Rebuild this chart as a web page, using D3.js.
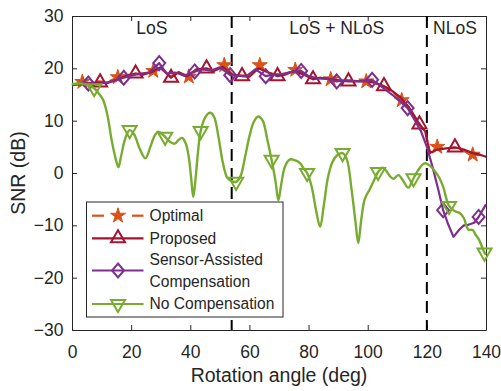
<!DOCTYPE html>
<html><head>
<meta charset="utf-8">
<script src="https://d3js.org/d3.v7.min.js"></script>
<style>
  body { margin: 0; background: #fff; }
  svg text { font-family: "Liberation Sans", Arial, Helvetica, sans-serif; fill: #262626; }
  .axis path, .axis line { stroke: #262626; }
  .axis text { font-size: 17.5px; }
</style>
</head>
<body>
<svg id="chart" width="501" height="391"></svg>
<script>

// ---- data: [rotation angle (deg), SNR (dB)] ----
const optimalPts = [
  [0,16.8],[3.5,17.4],[6,17],[9,17.5],[12,17.4],[15.5,18.3],[18,18.6],[21,19],[24,18.8],[27.5,19.5],
  [30,20],[33,18.5],[36,19],[39.5,18.4],[42,19.5],[45,19.8],[48,19.4],[51.5,20.6],[54,19],[57,18.6],
  [60,18.6],[63.5,20.6],[66,19.2],[69,18.8],[72,18.9],[75.5,19.7],[78,19],[81,18.1],[84,18.2],[87.5,17.9],
  [90,17.8],[93,17.7],[96,17.6],[99.5,17.5],[102,17.3],[105,16.7],[108,15.8],[111.5,13.9],[114,12.5],[117,9.8],
  [119.5,7.8],[121,4],[123.5,5],[126,4.7],[129,4.8],[132,4.3],[135.5,3.5],[138,3.4],[140,3.1]
];
const proposedPts = [
  [0,16.8],[3,17],[6,17.2],[9.5,17.3],[12,17.2],[15,17.8],[18,18.5],[21.5,19],[24,18.8],[27,19.3],
  [30,20.2],[33.5,18.2],[36,19.3],[39,18.5],[42,19.8],[45.5,20],[48,19.5],[51,20.3],[54,18.8],[57.5,18.5],
  [60,18.4],[63,20],[66,19.3],[69.5,18.5],[72,18.8],[75,19.5],[78,18.9],[81.5,17.9],[84,18.2],[87,18],
  [90,17.7],[93.5,17.5],[96,17.5],[99,17.6],[102,17.3],[105.5,16.6],[108,15.8],[111,14.5],[114,12.5],[117.5,9.3],
  [119.5,7.9],[121,3.8],[123,4.4],[126.5,4.7],[129.5,4.9],[132.5,4.5],[135.5,3.8],[138,3.5],[140,3.1]
];
const sensorPts = [
  [0,16.8],[3,17.2],[5.5,17.1],[8,17],[11,17.2],[14,17.6],[17.5,18.2],[20,18.6],[23,19],[26,19.2],
  [29.5,21],[32,19],[35,19.2],[38,18.6],[41.5,19.4],[44,19.8],[47,19.6],[50,20.2],[53.5,18.7],[56,18.6],
  [59,18.5],[62,19.8],[65.5,18.5],[68,18.8],[71,18.9],[74,19.3],[77.5,19.5],[80,18.5],[83,18.1],[86,18],
  [89.5,17.5],[92,17.7],[95,17.6],[98,17.5],[101.5,17.8],[104,16.8],[107,15.5],[110,14.2],[113.5,12.4],[116,10],
  [118,8],[120,5],[122,1],[124,-3.5],[125.5,-7.1],[127,-9.5],[129,-12.2],[131,-10.8],[132.5,-10],[134,-9.9],
  [136,-9.5],[137.5,-8.4],[140,-6]
];
const noCompPts = [
  [0,17],[3,17.1],[5,16.9],[7.5,16.2],[9,15.2],[10.5,14],[12,11],[13.5,6],[15,2.2],[15.7,1.1],
  [16.6,3.2],[18,6.6],[19.5,8.2],[21,7.4],[23,4.5],[24.8,2.8],[26.5,5],[28,7.2],[29.2,7.9],[30.3,7.5],
  [31.5,6.9],[33,6],[34.7,5.6],[36,6.3],[37.2,6.7],[38.5,5.6],[39.5,3],[40.3,-1],[41,-4.6],[41.8,-1],
  [42.6,4],[43.5,8],[45,10.6],[46.7,11.5],[48,10.8],[49.5,7],[51,2],[52.5,-0.9],[53.8,-1.5],[55.5,-1.7],
  [57,-0.6],[58.5,3],[60,7],[61.5,9.8],[63,10.8],[64.5,10],[66,6.5],[67.5,2.5],[68.8,-1.5],[69.8,-5.2],
  [70.8,-2],[72,1.2],[73.7,2.6],[75.5,2.4],[77.1,1.9],[78.3,0.9],[79.5,0],[81,-2.5],[82.5,-7],[83.9,-10.3],
  [85.2,-6],[86.5,-1],[88,2],[89.5,3.3],[91.5,3.8],[93,2.5],[94.5,-3],[95.8,-9],[96.8,-13.4],[97.8,-9],
  [99,-5],[100.8,-3],[102.3,-1.2],[103.5,0.2],[105,1],[106,0.6],[107.5,-0.6],[108.7,-1.1],[110.4,-0.4],[112,-1.5],
  [113.7,-2.8],[115.5,-1],[117,0.5],[118.5,1.6],[119.5,1.85],[121,1.4],[122.8,0.3],[124.3,-1],[125.6,-2.8],[127.5,-6.3],
  [129.5,-7.3],[131.2,-7.7],[132.5,-8.6],[134,-10.8],[135.5,-10.9],[136.5,-11.8],[137.5,-12.6],[139.5,-15.2],[140,-15.6]
];

// angles where each series carries a marker
const optimalMarks  = [3.5,15.5,27.5,39.5,51.5,63.5,75.5,87.5,99.5,111.5,123.5,135.5];
const proposedMarks = [9.5,21.5,33.5,45.5,57.5,69.5,81.5,93.5,105.5,117.5,129.5];
const sensorMarks   = [5.5,17.5,29.5,41.5,53.5,65.5,77.5,89.5,101.5,113.5,125.5,137.5];
const noCompMarks   = [7.5,19.5,31.5,43.5,55.5,67.5,79.5,91.5,103.5,115.5,127.5,139.5];

const xTicks = [0,20,40,60,80,100,120,140];
const yTicks = [-30,-20,-10,0,10,20,30];
const boundaries = [54,120];
const regionLabels = ["LoS","LoS + NLoS","NLoS"];
const regionCentres = [27,89.5,129.5];
const legendNames = ["Optimal","Proposed","Sensor-Assisted\nCompensation","No Compensation"];

// ---- layout ----
const svg = d3.select("#chart");
const margin = {top: 16, right: 15, bottom: 61, left: 72};
const W = 501 - margin.left - margin.right;
const H = 391 - margin.top - margin.bottom;
const g = svg.append("g").attr("transform", `translate(${margin.left},${margin.top})`);

const x = d3.scaleLinear().domain([0,140]).range([0,W]);
const y = d3.scaleLinear().domain([-30,30]).range([H,0]);

// axes, MATLAB style box with inward ticks
g.append("g").attr("class","axis")
  .attr("transform",`translate(0,${H})`)
  .call(d3.axisBottom(x).tickValues(xTicks).tickSize(-5).tickSizeOuter(0).tickPadding(15.5));
g.append("g").attr("class","axis")
  .call(d3.axisTop(x).tickValues(xTicks).tickSize(-5).tickSizeOuter(0).tickFormat(""));
g.append("g").attr("class","axis")
  .call(d3.axisLeft(y).tickValues(yTicks).tickSize(-5).tickSizeOuter(0).tickPadding(8.5));
g.append("g").attr("class","axis")
  .attr("transform",`translate(${W},0)`)
  .call(d3.axisRight(y).tickValues(yTicks).tickSize(-5).tickSizeOuter(0).tickFormat(""));

// region boundaries
g.selectAll(".bound").data(boundaries).enter().append("line")
  .attr("x1", d => x(d)).attr("x2", d => x(d))
  .attr("y1", y(30)).attr("y2", y(-30))
  .attr("stroke","#000").attr("stroke-width",2).attr("stroke-dasharray","12,7");

g.selectAll(".region").data(regionLabels).enter().append("text")
  .attr("x", (d,i) => x(regionCentres[i]))
  .attr("y", y(26.6))
  .attr("text-anchor","middle")
  .style("font-size","17.5px")
  .text(d => d);

// series
const series = [
  {pts: optimalPts,  marks: optimalMarks,  color: "#D95319", dash: "8,5", sym: "star",    curve: d3.curveLinear},
  {pts: proposedPts, marks: proposedMarks, color: "#A2142F", dash: null,  sym: "triUp",   curve: d3.curveLinear},
  {pts: sensorPts,   marks: sensorMarks,   color: "#7E2F8E", dash: null,  sym: "diamond", curve: d3.curveLinear},
  {pts: noCompPts,   marks: noCompMarks,   color: "#77AC30", dash: null,  sym: "triDown", curve: d3.curveCatmullRom.alpha(0.5)}
];

const symPath = {
  star:    d3.symbol().type(d3.symbolStar).size(70)(),
  triUp:   d3.symbol().type(d3.symbolTriangle).size(85)(),
  triDown: d3.symbol().type(d3.symbolTriangle).size(85)(),
  diamond: d3.symbol().type(d3.symbolSquare).size(98)()
};
const symXform = {
  star: "", triUp: "", triDown: " rotate(180)", diamond: " scale(0.85,1) rotate(45)"
};

series.forEach(s => {
  const line = d3.line().x(d => x(d[0])).y(d => y(d[1])).curve(s.curve);
  g.append("path").datum(s.pts)
    .attr("d", line)
    .attr("fill","none")
    .attr("stroke", s.color)
    .attr("stroke-width", s.sym === "triDown" ? 2.4 : 2.2)
    .attr("stroke-linejoin","round")
    .attr("stroke-dasharray", s.dash);

  // marker sits on the series point nearest its angle
  const markPts = s.marks.map(m => s.pts.reduce((a,b) => Math.abs(b[0]-m) < Math.abs(a[0]-m) ? b : a));
  g.selectAll(null).data(markPts).enter().append("path")
    .attr("d", symPath[s.sym])
    .attr("transform", d => `translate(${x(d[0])},${y(d[1])})` + symXform[s.sym])
    .attr("fill", s.sym === "star" ? s.color : "none")
    .attr("stroke", s.color)
    .attr("stroke-width", s.sym === "star" ? 1 : 2)
    .attr("vector-effect","non-scaling-stroke");
});

// axis titles
svg.append("text")
  .attr("x", margin.left + W/2)
  .attr("y", 382)
  .attr("text-anchor","middle")
  .style("font-size","19.5px")
  .text("Rotation angle (deg)");
svg.append("text")
  .attr("transform","rotate(-90)")
  .attr("x", -(margin.top + H/2))
  .attr("y", 25)
  .attr("text-anchor","middle")
  .style("font-size","19.5px")
  .text("SNR (dB)");

// legend
const leg = svg.append("g");
leg.append("rect")
  .attr("x",86.5).attr("y",202).attr("width",196.5).attr("height",115)
  .attr("fill","#fff").attr("stroke","#262626").attr("stroke-width",1);
const rowY = [215.7, 238.3, 270.5, 304];
series.forEach((s,i) => {
  const ry = rowY[i];
  if (s.dash) {
    leg.append("line").attr("x1",92).attr("x2",104).attr("y1",ry).attr("y2",ry)
      .attr("stroke",s.color).attr("stroke-width",2.2);
    leg.append("line").attr("x1",132).attr("x2",143.5).attr("y1",ry).attr("y2",ry)
      .attr("stroke",s.color).attr("stroke-width",2.2);
  } else {
    leg.append("line").attr("x1",92).attr("x2",143.5).attr("y1",ry).attr("y2",ry)
      .attr("stroke",s.color).attr("stroke-width",2.2);
  }
  leg.append("path")
    .attr("d", symPath[s.sym])
    .attr("transform", `translate(118,${ry})` + symXform[s.sym])
    .attr("fill", s.sym === "star" ? s.color : "none")
    .attr("stroke", s.color)
    .attr("stroke-width", s.sym === "star" ? 1 : 2)
    .attr("vector-effect","non-scaling-stroke");
  const lines = legendNames[i].split("\n");
  const t = leg.append("text").attr("x",149.5).style("font-size","15.6px");
  lines.forEach((ln,j) => {
    t.append("tspan")
      .attr("x",149.5)
      .attr("y", ry + (j - (lines.length-1)/2) * 21.5)
      .attr("dy","0.35em")
      .text(ln);
  });
});
</script>
</body>
</html>
